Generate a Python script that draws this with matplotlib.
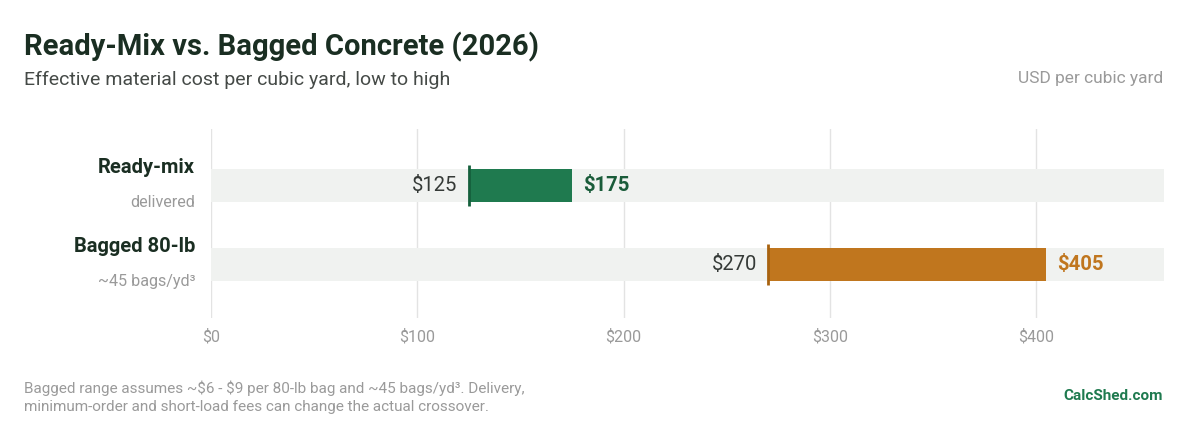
import matplotlib
matplotlib.use("Agg")
import matplotlib.pyplot as plt

plt.rcParams['font.family'] = ['Roboto', 'DejaVu Sans']

categories = ["Ready-mix", "Bagged 80-lb"]
subtitles = ["delivered", "~45 bags/yd³"]
low = [125, 270]
high = [175, 405]
ticks = [0, 100, 200, 300, 400]
tick_labels = ["\\$0", "\\$100", "\\$200", "\\$300", "\\$400"]

bar_colors = ["#1f7a4f", "#c0761e"]
edge_colors = ["#15603c", "#a8620f"]
high_colors = ["#1a5c3a", "#c0761e"]

W, H = 1200, 426
fig = plt.figure(figsize=(W / 100, H / 100), dpi=100)
ax = fig.add_axes([211 / W, (H - 318) / H, (1164 - 211) / W, (318 - 129) / H])

xmax = 462
ax.set_xlim(0, xmax)
ax.set_ylim(1.677, -0.715)

track_h = 0.418
for i in range(len(categories)):
    ax.barh(i, xmax, left=0, height=track_h, color="#f0f2f0", zorder=1)
    ax.barh(i, high[i] - low[i], left=low[i], height=track_h,
            color=bar_colors[i], zorder=3)
    ax.vlines(low[i], i - 0.265, i + 0.265, color=edge_colors[i], lw=2, zorder=4)
    ax.annotate(f"\\${low[i]}", (low[i], i), xytext=(-8, 0), textcoords="offset points",
                ha="right", va="center", fontsize=14.6, color="#353a37", zorder=5)
    ax.annotate(f"\\${high[i]}", (high[i], i), xytext=(8, 0), textcoords="offset points",
                ha="left", va="center", fontsize=14.6, fontweight="bold",
                color=high_colors[i], zorder=5)
    ax.annotate(categories[i], (0, i), xytext=(-11.5, 13.3), textcoords="offset points",
                ha="right", va="center", fontsize=14.5, fontweight="bold",
                color="#1a2e22", annotation_clip=False)
    ax.annotate(subtitles[i], (0, i), xytext=(-11.5, -11.9), textcoords="offset points",
                ha="right", va="center", fontsize=11.6, color="#9a9a9a",
                annotation_clip=False)

ax.set_xticks(ticks)
ax.set_xticklabels(tick_labels)
ax.tick_params(axis="x", length=0, pad=8, labelsize=11.5, labelcolor="#9a9a9a")
ax.set_yticks([])
ax.grid(axis="x", color="#e3e3e3", lw=1, zorder=0)
ax.set_axisbelow(True)
for s in ax.spines.values():
    s.set_visible(False)

fig.text(24 / W, 1 - 47 / H, "Ready-Mix vs. Bagged Concrete (2026)", fontsize=21,
         fontweight="bold", color="#1a2e22", va="center", ha="left")
fig.text(24 / W, 1 - 80 / H, "Effective material cost per cubic yard, low to high",
         fontsize=14, color="#454a47", va="center", ha="left")
fig.text(1163 / W, 1 - 78 / H, "USD per cubic yard", fontsize=12.5, color="#9a9a9a",
         va="center", ha="right")
fig.text(24 / W, 1 - 397 / H,
         "Bagged range assumes ~\\$6 - \\$9 per 80-lb bag and ~45 bags/yd³. Delivery,\n"
         "minimum-order and short-load fees can change the actual crossover.",
         fontsize=11, color="#9a9a9a", va="center", ha="left", linespacing=1.35)
fig.text(1163 / W, 1 - 396 / H, "CalcShed.com", fontsize=11, fontweight="bold",
         color="#1f7a4f", va="center", ha="right")

fig.savefig("out.png", dpi=100)
